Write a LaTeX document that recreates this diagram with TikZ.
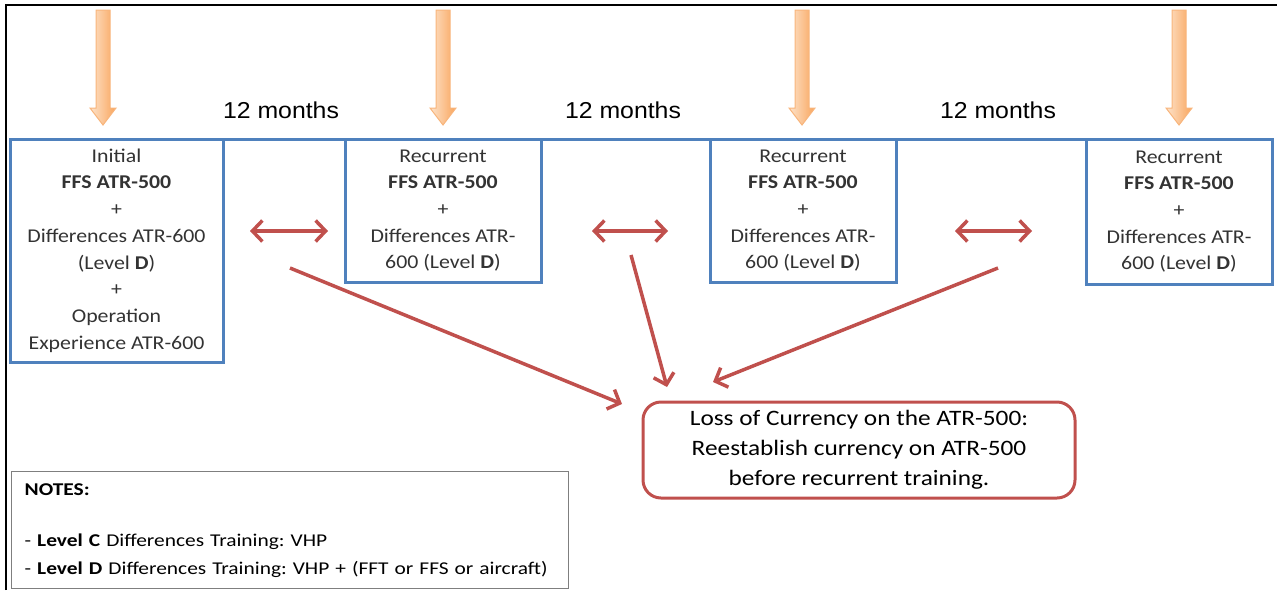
\documentclass[tikz,border=0pt]{standalone}
\usepackage{fontspec}
\usepackage{xcolor}
\setmainfont{Carlito}
\newfontfamily\boxfont[FakeStretch=1.12]{Carlito}
\newfontfamily\lossfont[FakeStretch=1.15]{Carlito}
\newfontfamily\notefont[FakeStretch=1.19]{Carlito}
\newfontfamily\monthfont[FakeStretch=1.08]{Liberation Sans}
\usetikzlibrary{arrows.meta}
\definecolor{boxblue}{HTML}{4F81BD}
\definecolor{lossred}{HTML}{C0504D}
\definecolor{textgray}{HTML}{333333}
\definecolor{notegray}{HTML}{7F7F7F}
\definecolor{duelight}{HTML}{FDE3CB}
\definecolor{duedark}{HTML}{F9A55C}
\definecolor{dueedge}{HTML}{F8B57C}
\frenchspacing

\begin{document}
\begin{tikzpicture}[x=1pt,y=-1pt,
    stage/.style={draw=boxblue,line width=3pt,fill=white,align=center,text=textgray,
        font=\boxfont\fontsize{19.5}{26.7}\selectfont,inner sep=0pt,outer sep=0pt},
    gap/.style={font=\monthfont\fontsize{23}{28}\selectfont,text=black},
    lossbox/.style={draw=lossred,line width=3pt,rounded corners=18pt,align=center,
        font=\lossfont\fontsize{22}{30}\selectfont,inner sep=0pt},
    notebox/.style={draw=notegray,line width=1.3pt,align=left,text=black,
        font=\notefont\fontsize{18}{28}\selectfont,inner xsep=13pt},
    redline/.style={draw=lossred,line width=3.5pt,-{Straight Barb[length=10pt,width=21pt]}},
    twoway/.style={draw=lossred,line width=3.5pt,
        {Straight Barb[length=10pt,width=21pt]}-{Straight Barb[length=10pt,width=21pt]}},
    due/.style={draw=dueedge,line width=1pt,left color=duelight,right color=duedark}]
    \useasboundingbox (0,0) rectangle (1277,590);
    \draw[line width=2pt] (6,590) -- (6,5) -- (1277,5);

    % timeline
    \node[stage,minimum width=213pt,minimum height=223pt] (init) at (116.5,250.5)
        {Initial\\ \textbf{FFS ATR-500}\\ +\\ Differences ATR-600\\ (Level \textbf{D})\\ +\\ Operation\\ Experience ATR-600};
    \node[stage,minimum width=196pt,minimum height=143pt] (rec1) at (443,210.5)
        {Recurrent\\ \textbf{FFS ATR-500}\\ +\\ Differences ATR-\\ 600 (Level \textbf{D})};
    \node[stage,minimum width=186pt,minimum height=143pt] (rec2) at (803,210.5)
        {Recurrent\\ \textbf{FFS ATR-500}\\ +\\ Differences ATR-\\ 600 (Level \textbf{D})};
    \node[stage,minimum width=186pt,minimum height=145pt] (rec3) at (1179,211.5)
        {Recurrent\\ \textbf{FFS ATR-500}\\ +\\ Differences ATR-\\ 600 (Level \textbf{D})};
    \draw[draw=boxblue,line width=3pt] (init.north east) -- (rec1.north west)
        (rec1.north east) -- (rec2.north west) (rec2.north east) -- (rec3.north west);

    \node[gap] (m1) at (281,110) {12 months};
    \node[gap] (m2) at (623,110) {12 months};
    \node[gap] (m3) at (998,110) {12 months};

    % training due
    \foreach \x in {103,443,802,1179}
        \draw[due] (\x-7,10) -- (\x+7,10) -- (\x+7,108) -- (\x+13,108) -- (\x,125)
            -- (\x-13,108) -- (\x-7,108) -- cycle;

    \node[lossbox,minimum width=432pt,minimum height=96pt] (loss) at (859,450)
        {Loss of Currency on the ATR-500:\\ Reestablish currency on ATR-500\\ before recurrent training.};

    \node[notebox,text width=531pt,minimum height=117pt,anchor=north west] (notes) at (11,471)
        {\textbf{NOTES:}\\[23pt]
         - \textbf{Level C} Differences Training: VHP\\
         - \textbf{Level D} Differences Training: VHP + (FFT or FFS or aircraft)};

    % gaps between sessions
    \coordinate (g1l) at (250,231); \coordinate (g1r) at (328,231);
    \coordinate (g2l) at (592,231); \coordinate (g2r) at (668,231);
    \coordinate (g3l) at (955,231); \coordinate (g3r) at (1032,231);
    \draw[twoway] (g1l) -- (g1r);
    \draw[twoway] (g2l) -- (g2r);
    \draw[twoway] (g3l) -- (g3r);

    \coordinate (s1) at (290,268); \coordinate (e1) at (622,404);
    \coordinate (s2) at (631,255); \coordinate (e2) at (667,387);
    \coordinate (s3) at (998,268); \coordinate (e3) at (713,382);
    \draw[redline] (s1) -- (e1);
    \draw[redline] (s2) -- (e2);
    \draw[redline] (s3) -- (e3);
\end{tikzpicture}
\end{document}
